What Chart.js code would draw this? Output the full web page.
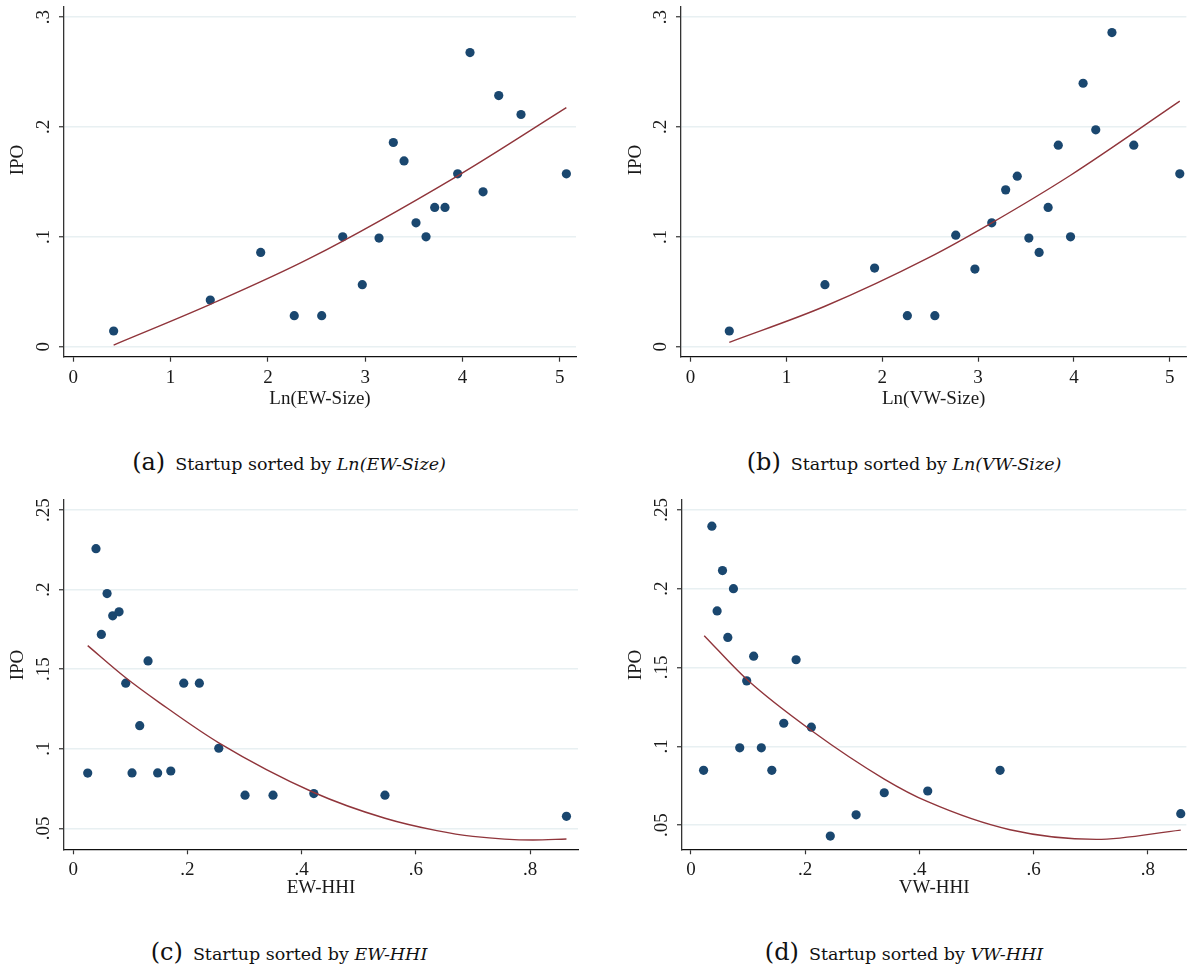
<!DOCTYPE html>
<html>
<head>
<meta charset="utf-8">
<script src="https://cdn.jsdelivr.net/npm/chart.js@4.4.1/dist/chart.umd.min.js"></script>
<style>
  html, body { margin: 0; padding: 0; background: #fff; }
  #page { position: relative; width: 1191px; height: 972px; background: #fff; overflow: hidden; }
  #page canvas { position: absolute; }
  .cap { position: absolute; font-family: "DejaVu Serif", serif; font-size: 17.5px; line-height: 30px;
         color: #111; white-space: nowrap; transform: translateX(-50%); }
  .cap .tag { font-size: 24px; margin-right: 10px; }
  .cap i { font-style: italic; }
</style>
</head>
<body>
<div id="page">
  <canvas id="panelA" width="595" height="420" style="left:0;top:0"></canvas>
  <canvas id="panelB" width="591" height="420" style="left:600px;top:0"></canvas>
  <canvas id="panelC" width="595" height="440" style="left:0;top:490px"></canvas>
  <canvas id="panelD" width="591" height="440" style="left:600px;top:490px"></canvas>
  <div class="cap" style="left:289px;top:447px"><span class="tag">(a)</span>Startup sorted by <i>Ln(EW-Size)</i></div>
  <div class="cap" style="left:904px;top:447px"><span class="tag">(b)</span>Startup sorted by <i>Ln(VW-Size)</i></div>
  <div class="cap" style="left:289px;top:937px"><span class="tag">(c)</span>Startup sorted by <i>EW-HHI</i></div>
  <div class="cap" style="left:904px;top:937px"><span class="tag">(d)</span>Startup sorted by <i>VW-HHI</i></div>
</div>
<script>
// ---- Data: IPO rate of startup groups sorted by size and concentration ----
const ewSizeX   = [0.415, 1.408, 1.926, 2.271, 2.553, 2.769, 2.970, 3.142, 3.289, 3.399, 3.522, 3.625, 3.714, 3.820, 3.950, 4.077, 4.211, 4.372, 4.601, 5.067];
const ewSizeIPO = [0.0143, 0.0425, 0.0858, 0.0282, 0.0282, 0.1000, 0.0564, 0.0988, 0.1858, 0.1690, 0.1127, 0.1000, 0.1267, 0.1267, 0.1573, 0.2676, 0.1409, 0.2285, 0.2113, 0.1573];

const vwSizeX   = [0.404, 1.402, 1.920, 2.262, 2.549, 2.767, 2.967, 3.143, 3.288, 3.409, 3.530, 3.637, 3.731, 3.837, 3.965, 4.096, 4.228, 4.397, 4.625, 5.105];
const vwSizeIPO = [0.0143, 0.0564, 0.0715, 0.0282, 0.0282, 0.1015, 0.0706, 0.1127, 0.1427, 0.1552, 0.0988, 0.0858, 0.1267, 0.1834, 0.1000, 0.2397, 0.1973, 0.2858, 0.1834, 0.1573];

const ewHhiX    = [0.0255, 0.0400, 0.0494, 0.0594, 0.0693, 0.0804, 0.0921, 0.1031, 0.1166, 0.1312, 0.1480, 0.1710, 0.1937, 0.2210, 0.2550, 0.3010, 0.3500, 0.4214, 0.5460, 0.8638];
const ewHhiIPO  = [0.0847, 0.2257, 0.1718, 0.1975, 0.1835, 0.1860, 0.1412, 0.0848, 0.1145, 0.1552, 0.0848, 0.0860, 0.1412, 0.1412, 0.1003, 0.0708, 0.0708, 0.0718, 0.0708, 0.0575];

const vwHhiX    = [0.0221, 0.0366, 0.0458, 0.0552, 0.0645, 0.0744, 0.0854, 0.0976, 0.1098, 0.1232, 0.1416, 0.1625, 0.1841, 0.2108, 0.2440, 0.2892, 0.3385, 0.4146, 0.5413, 0.8577];
const vwHhiIPO  = [0.0847, 0.2397, 0.1859, 0.2115, 0.1691, 0.2000, 0.0990, 0.1415, 0.1572, 0.0990, 0.0847, 0.1146, 0.1549, 0.1121, 0.0430, 0.0565, 0.0705, 0.0716, 0.0847, 0.0572];

// Quadratic fit lines, given as points along each fitted curve
const ewSizeFitX   = [0.415, 1.408, 2.433, 3.950, 5.067];
const ewSizeFitIPO = [0.0015, 0.0385, 0.0805, 0.1555, 0.2175];
const vwSizeFitX   = [0.404, 1.402, 2.480, 3.143, 3.965, 5.105];
const vwSizeFitIPO = [0.0040, 0.0368, 0.0808, 0.1127, 0.1560, 0.2234];
const ewHhiFitX    = [0.0255, 0.0921, 0.1522, 0.2550, 0.4214, 0.5460, 0.6368, 0.7000, 0.8050, 0.8638];
const ewHhiFitIPO  = [0.1648, 0.1446, 0.1287, 0.1037, 0.0725, 0.0563, 0.0485, 0.0449, 0.0426, 0.0433];
const vwHhiFitX    = [0.0232, 0.0976, 0.2108, 0.3385, 0.4146, 0.5587, 0.7100, 0.8577];
const vwHhiFitIPO  = [0.1702, 0.1425, 0.1100, 0.0792, 0.0648, 0.0470, 0.0409, 0.0468];

// Tick values and their printed labels
const sizeTicks       = [0, 1, 2, 3, 4, 5];
const sizeTickLabels  = ['0', '1', '2', '3', '4', '5'];
const hhiTicks        = [0, 0.2, 0.4, 0.6, 0.8];
const hhiTickLabels   = ['0', '.2', '.4', '.6', '.8'];
const ipoTicksTop     = [0, 0.1, 0.2, 0.3];
const ipoLabelsTop    = ['0', '.1', '.2', '.3'];
const ipoTicksBottom  = [0.05, 0.1, 0.15, 0.2, 0.25];
const ipoLabelsBottom = ['.05', '.1', '.15', '.2', '.25'];

const SERIF = '"Liberation Serif", "Times New Roman", serif';
const INK = '#1a1a1a';
const AXIS = '#333333';

// Rotated y tick labels and y title, placed on the chart's own y scale
const rotatedYLabels = {
  id: 'rotatedYLabels',
  afterDraw(chart, args, opts) {
    const { ctx } = chart;
    const ys = chart.scales.y;
    ctx.save();
    ctx.fillStyle = INK;
    ctx.font = '19px ' + SERIF;
    ctx.textAlign = 'center';
    ctx.textBaseline = 'middle';
    opts.values.forEach((v, i) => {
      ctx.save();
      ctx.translate(opts.tickX, ys.getPixelForValue(v));
      ctx.rotate(-Math.PI / 2);
      ctx.fillText(opts.labels[i], 0, 0);
      ctx.restore();
    });
    ctx.translate(opts.titleX, opts.titleY);
    ctx.rotate(-Math.PI / 2);
    ctx.fillText(opts.title, 0, 0);
    ctx.restore();
  }
};

function makePanel(id, p) {
  const scatter = p.xs.map((x, i) => ({ x: x, y: p.ys[i] }));
  const fit = p.fx.map((x, i) => ({ x: x, y: p.fy[i] }));
  new Chart(document.getElementById(id), {
    data: {
      datasets: [
        { type: 'line', data: fit, borderColor: '#90353b', borderWidth: 1.4,
          pointRadius: 0, fill: false, cubicInterpolationMode: 'monotone' },
        { type: 'scatter', data: scatter, pointRadius: 4.6, pointBorderWidth: 0,
          pointBackgroundColor: '#1a476f', backgroundColor: '#1a476f' }
      ]
    },
    options: {
      responsive: false,
      animation: false,
      events: [],
      layout: { padding: { left: 0, top: p.padTop, right: p.padRight, bottom: 0 } },
      plugins: {
        legend: { display: false },
        tooltip: { enabled: false },
        rotatedYLabels: { values: p.yTicks, labels: p.yLabels, tickX: p.tickX, titleX: p.titleX, titleY: p.titleY, title: 'IPO' }
      },
      scales: {
        x: {
          type: 'linear', min: p.xMin, max: p.xMax,
          afterBuildTicks: s => { s.ticks = p.xTicks.map(v => ({ value: v })); },
          afterFit: s => { s.height = p.xH; },
          ticks: { color: INK, font: { family: SERIF, size: 19 }, padding: p.xTickPad,
                   maxRotation: 0, autoSkip: false, callback: (v, i) => p.xLabels[i] },
          grid: { drawOnChartArea: false, drawTicks: true, tickLength: 5, tickColor: AXIS, tickWidth: 1.2 },
          border: { color: '#111', width: 1.3 },
          title: { display: true, text: p.xTitle, color: INK, font: { family: SERIF, size: 19 },
                   padding: { top: 0, bottom: p.xTitlePad } }
        },
        y: {
          type: 'linear', min: p.yMin, max: p.yMax,
          afterBuildTicks: s => { s.ticks = p.yTicks.map(v => ({ value: v })); },
          afterFit: s => { s.width = p.yW; },
          ticks: { display: false },
          grid: { color: '#e8f0f2', lineWidth: 1.5, drawTicks: true, tickLength: 5, tickColor: AXIS, tickWidth: 1.2 },
          border: { color: AXIS, width: 1.3 }
        }
      }
    },
    plugins: [rotatedYLabels]
  });
}

makePanel('panelA', {
  xs: ewSizeX, ys: ewSizeIPO, fx: ewSizeFitX, fy: ewSizeFitIPO, xTitle: 'Ln(EW-Size)',
  xMin: -0.095, xMax: 5.166, xTicks: sizeTicks, xLabels: sizeTickLabels,
  yMin: -0.0091, yMax: 0.3091, yTicks: ipoTicksTop, yLabels: ipoLabelsTop,
  yW: 64, padTop: 7, padRight: 19, xH: 63.3, xTickPad: 5, xTitlePad: 9.6,
  tickX: 44, titleX: 18, titleY: 160
});
makePanel('panelB', {
  xs: vwSizeX, ys: vwSizeIPO, fx: vwSizeFitX, fy: vwSizeFitIPO, xTitle: 'Ln(VW-Size)',
  xMin: -0.1, xMax: 5.174, xTicks: sizeTicks, xLabels: sizeTickLabels,
  yMin: -0.0091, yMax: 0.3091, yTicks: ipoTicksTop, yLabels: ipoLabelsTop,
  yW: 81, padTop: 7, padRight: 2, xH: 63.3, xTickPad: 5, xTitlePad: 9.6,
  tickX: 61, titleX: 36, titleY: 160
});
makePanel('panelC', {
  xs: ewHhiX, ys: ewHhiIPO, fx: ewHhiFitX, fy: ewHhiFitIPO, xTitle: 'EW-HHI',
  xMin: -0.016, xMax: 0.884, xTicks: hhiTicks, xLabels: hhiTickLabels,
  yMin: 0.0368, yMax: 0.2563, yTicks: ipoTicksBottom, yLabels: ipoLabelsBottom,
  yW: 64, padTop: 10, padRight: 17, xH: 80.7, xTickPad: 4, xTitlePad: 30.6,
  tickX: 44, titleX: 18, titleY: 175
});
makePanel('panelD', {
  xs: vwHhiX, ys: vwHhiIPO, fx: vwHhiFitX, fy: vwHhiFitIPO, xTitle: 'VW-HHI',
  xMin: -0.0157, xMax: 0.8676, xTicks: hhiTicks, xLabels: hhiTickLabels,
  yMin: 0.0346, yMax: 0.2563, yTicks: ipoTicksBottom, yLabels: ipoLabelsBottom,
  yW: 82, padTop: 10, padRight: 2, xH: 80.7, xTickPad: 4, xTitlePad: 30.6,
  tickX: 62, titleX: 36, titleY: 175
});
</script>
</body>
</html>
